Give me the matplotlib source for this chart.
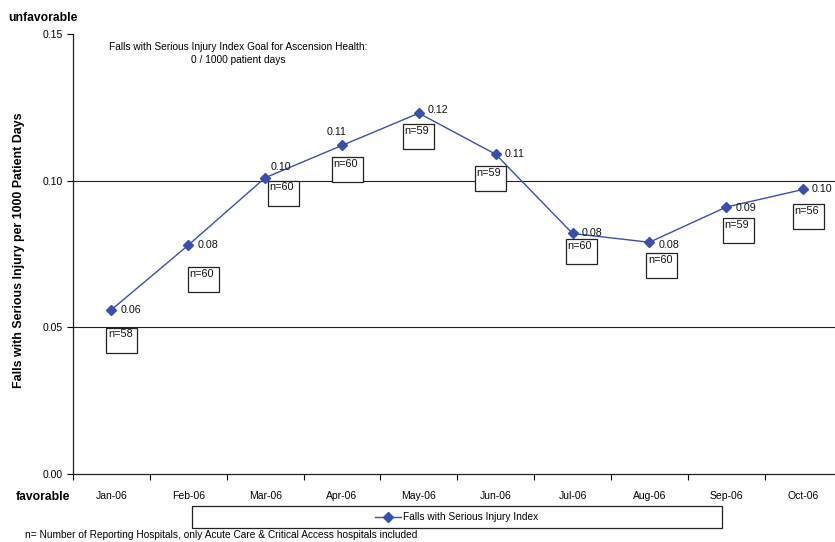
import matplotlib
matplotlib.use("Agg")
import matplotlib.pyplot as plt
from matplotlib.patches import Rectangle
from matplotlib.lines import Line2D
from matplotlib.transforms import ScaledTranslation

plt.rcParams['font.family'] = ['Liberation Sans', 'DejaVu Sans']

months = ["Jan-06", "Feb-06", "Mar-06", "Apr-06", "May-06", "Jun-06",
          "Jul-06", "Aug-06", "Sep-06", "Oct-06"]
values = [0.056, 0.078, 0.101, 0.112, 0.123, 0.109, 0.082, 0.079, 0.091, 0.097]
value_labels = ["0.06", "0.08", "0.10", "0.11", "0.12", "0.11", "0.08", "0.08", "0.09", "0.10"]
n_hospitals = [58, 60, 60, 60, 59, 59, 60, 60, 59, 56]
series_name = "Falls with Serious Injury Index"
yticks = [0.00, 0.05, 0.10, 0.15]

# layout (pixel offsets from each point)
label_offsets = [(9, 0), (9, 0), (5, 11), (-15, 13), (9, 3), (9, 0), (9, 0), (9, -3), (9, -1), (9, 0)]
box_offsets = [(-5, -18), (0, -22), (3, -3), (-10, -12), (-16, -11), (-21, -12),
               (-7, -6), (-3, -11), (-3, -11), (-10, -15)]
BOX_W, BOX_H = 31, 25

W, H = 835, 542
fig = plt.figure(figsize=(W / 100, H / 100), dpi=100)
ax = fig.add_axes([73 / W, 1 - 474 / H, 768.5 / W, 440 / H])

color = "#3A50A8"
x = list(range(len(months)))
ax.plot(x, values, color=color, lw=1.0, marker="D", ms=4.8, mfc=color, mec=color, zorder=3)

ax.set_xlim(-0.5, len(months) - 0.5)
ax.set_ylim(0, 0.15)
ax.set_yticks(yticks)
ax.set_yticklabels([f"{v:.2f}" for v in yticks], fontsize=7.5)
ax.set_xticks([i - 0.5 for i in range(len(months) + 1)])
ax.set_xticklabels([])
ax.set_xticks(x, minor=True)
ax.set_xticklabels(months, minor=True, fontsize=7.5)
ax.tick_params(axis="x", which="minor", length=0, pad=12)
ax.tick_params(axis="x", which="major", length=4, direction="out", width=0.8)
ax.tick_params(axis="y", length=4, direction="out", width=0.8)
for s in ["top", "right"]:
    ax.spines[s].set_visible(False)
for s in ["left", "bottom"]:
    ax.spines[s].set_linewidth(0.9)
    ax.spines[s].set_color("#222222")
for g in yticks[1:3]:
    ax.axhline(g, color="#222222", lw=0.8, zorder=1)

for i, (v, lab, n) in enumerate(zip(values, value_labels, n_hospitals)):
    lx, ly = label_offsets[i]
    ax.annotate(lab, (i, v), xytext=(lx * 0.72, ly * 0.72), textcoords="offset points",
                fontsize=7.7, ha="left", va="center", color="#111111", zorder=4)
    bx, by = box_offsets[i]
    tr = fig.dpi_scale_trans + ScaledTranslation(i, v, ax.transData)
    rect = Rectangle((bx / 100, (by - BOX_H) / 100), BOX_W / 100, BOX_H / 100,
                     transform=tr, fill=True, facecolor="white", edgecolor="#222222",
                     lw=0.9, zorder=2, clip_on=False)
    ax.add_patch(rect)
    ax.text((bx + 1.5) / 100, (by - 1.5) / 100, f"n={n}", transform=tr, fontsize=7.8,
            ha="left", va="top", color="#111111", zorder=4)

ax.set_ylabel("Falls with Serious Injury per 1000 Patient Days", fontsize=8.9,
              fontweight="bold")
ax.yaxis.set_label_coords(-0.062, 0.509)

fig.text(8 / W, 1 - 18 / H, "unfavorable", fontsize=8.7, fontweight="bold", va="center", ha="left")
fig.text(16 / W, 1 - 497 / H, "favorable", fontsize=8.7, fontweight="bold", va="center", ha="left")

fig.text(238 / W, 1 - 47 / H, "Falls with Serious Injury Index Goal for Ascension Health:",
         fontsize=7.3, ha="center", va="center")
fig.text(238 / W, 1 - 60 / H, "0 / 1000 patient days", fontsize=7.3, ha="center", va="center")

# legend
fig.patches.append(Rectangle((192 / W, 1 - 528 / H), 530 / W, 22 / H, transform=fig.transFigure,
                             facecolor="white", edgecolor="#222222", lw=0.9))
fig.lines.append(Line2D([375 / W, 401 / W], [1 - 517 / H] * 2, transform=fig.transFigure,
                        color=color, lw=1.0))
fig.lines.append(Line2D([388 / W], [1 - 517 / H], transform=fig.transFigure, color=color,
                        marker="D", ms=4.8, lw=0))
fig.text(403 / W, 1 - 517 / H, series_name, fontsize=7.3, va="center", ha="left")

fig.text(25 / W, 1 - 535 / H,
         "n= Number of Reporting Hospitals, only Acute Care & Critical Access hospitals included",
         fontsize=7.3, va="center", ha="left")

fig.savefig("out.png", dpi=100)
